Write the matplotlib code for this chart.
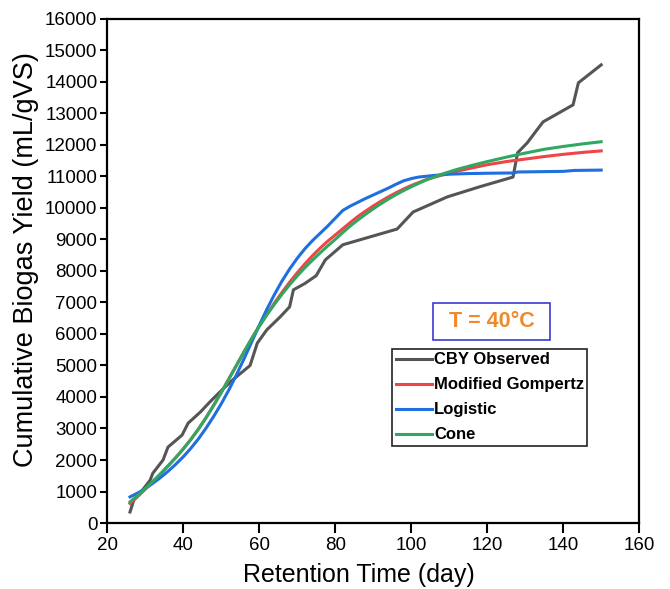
import matplotlib
matplotlib.use("Agg")
import matplotlib.pyplot as plt
from matplotlib.patches import Rectangle

plt.rcParams['font.family'] = ['Liberation Sans', 'DejaVu Sans']

# Observed cumulative biogas yield (CBY)
obs_days = [26, 27, 29, 31.3, 32, 34.7, 36, 39.7, 41.3, 44.5, 47, 50, 53, 57.6, 59.5,
            62, 65.5, 68, 69, 72, 75, 77.4, 82, 96.3, 100.5, 109.5, 118, 126.8,
            128, 130.5, 134.7, 142.6, 144, 150]
obs_yield = [350, 730, 1000, 1360, 1580, 2000, 2410, 2790, 3170, 3520, 3840, 4200, 4540,
             5000, 5710, 6130, 6540, 6860, 7400, 7600, 7850, 8350, 8830, 9330, 9870,
             10350, 10670, 10980, 11750, 12060, 12730, 13270, 13970, 14540]

# Model fits
model_days = [26, 28, 30, 32, 34, 36, 38, 40, 42, 44, 46, 48, 50, 52, 54, 56, 58, 60,
              62, 64, 66, 68, 70, 72, 74, 76, 78, 80, 82, 84, 86, 88, 90, 92, 94, 96,
              98, 100, 104, 108, 112, 116, 120, 125, 130, 135, 140, 145, 150]
gompertz = [620, 840, 1070, 1310, 1550, 1810, 2070, 2350, 2650, 2980, 3340, 3730, 4140,
            4570, 5000, 5430, 5850, 6250, 6620, 6980, 7320, 7640, 7940, 8220, 8480, 8720,
            8940, 9140, 9340, 9540, 9730, 9900, 10060, 10210, 10350, 10480, 10600, 10710,
            10900, 11040, 11160, 11270, 11370, 11470, 11550, 11630, 11700, 11760, 11810]
cone = [670, 870, 1090, 1320, 1560, 1810, 2070, 2350, 2650, 2980, 3340, 3730, 4140,
        4570, 5000, 5430, 5850, 6240, 6600, 6940, 7260, 7560, 7840, 8100, 8340, 8570,
        8790, 9000, 9220, 9430, 9620, 9800, 9970, 10130, 10280, 10420, 10550, 10670,
        10890, 11070, 11220, 11350, 11470, 11610, 11740, 11860, 11950, 12030, 12100]
logistic_days = [26, 28, 30, 32, 34, 36, 38, 40, 42, 44, 46, 48, 50, 52, 54, 56, 58, 60,
                 62, 64, 66, 68, 70, 72, 74, 76, 78, 80, 82, 84, 86, 88, 90, 92, 94, 96,
                 98, 100, 102, 106, 110, 115, 120, 127, 128, 140, 143, 150]
logistic = [830, 950, 1090, 1260, 1440, 1640, 1860, 2100, 2370, 2670, 3010, 3380, 3780,
            4220, 4700, 5210, 5740, 6270, 6780, 7250, 7680, 8060, 8400, 8700, 8960, 9190,
            9420, 9670, 9920, 10060, 10180, 10300, 10410, 10520, 10630, 10750, 10860,
            10930, 10980, 11030, 11070, 11090, 11100, 11110, 11140, 11160, 11190, 11200]

fig = plt.figure(figsize=(6.7, 5.89), dpi=100)
ax = fig.add_axes([0.160, 0.112, 0.794, 0.856])

lw = 2.2
ax.plot(obs_days, obs_yield, color='#555555', lw=lw, label='CBY Observed')
ax.plot(model_days, gompertz, color='#f04545', lw=lw, label='Modified Gompertz')
ax.plot(logistic_days, logistic, color='#1f6fe0', lw=lw, label='Logistic')
ax.plot(model_days, cone, color='#30a862', lw=lw, label='Cone')

ax.set_xlim(20, 160)
ax.set_ylim(0, 16000)
ax.set_xticks(range(20, 161, 20))
ax.set_yticks(range(0, 16001, 1000))
ax.tick_params(axis='both', direction='out', width=1.5, labelsize=13.5)
ax.tick_params(axis='x', length=7, pad=3)
ax.tick_params(axis='y', length=5, pad=2)
for s in ax.spines.values():
    s.set_linewidth(1.6)

ax.set_xlabel('Retention Time (day)', fontsize=18)
ax.set_ylabel('Cumulative Biogas Yield (mL/gVS)', fontsize=19.5)
ax.xaxis.set_label_coords(0.474, -0.080)
ax.yaxis.set_label_coords(-0.128, 0.522)

# temperature label in a blue box
ax.add_patch(Rectangle((0.613, 0.363), 0.220, 0.0735, transform=ax.transAxes,
                       fc='white', ec='#3b3bd0', lw=1.2, zorder=5))
ax.text(0.7227, 0.399, 'T = 40°C', transform=ax.transAxes, ha='center', va='center',
        fontsize=15.5, fontweight='bold', color='#f0892a', zorder=6)

leg = ax.legend(loc='upper left', bbox_to_anchor=(0.536, 0.345), frameon=True, fancybox=False,
                edgecolor='#222222', framealpha=1, handlelength=2.2, handletextpad=0.1,
                borderpad=0.2, labelspacing=0.6, borderaxespad=0,
                prop={'size': 12, 'weight': 'bold'})
leg.get_frame().set_linewidth(1.2)

fig.savefig('out.png', dpi=100)
